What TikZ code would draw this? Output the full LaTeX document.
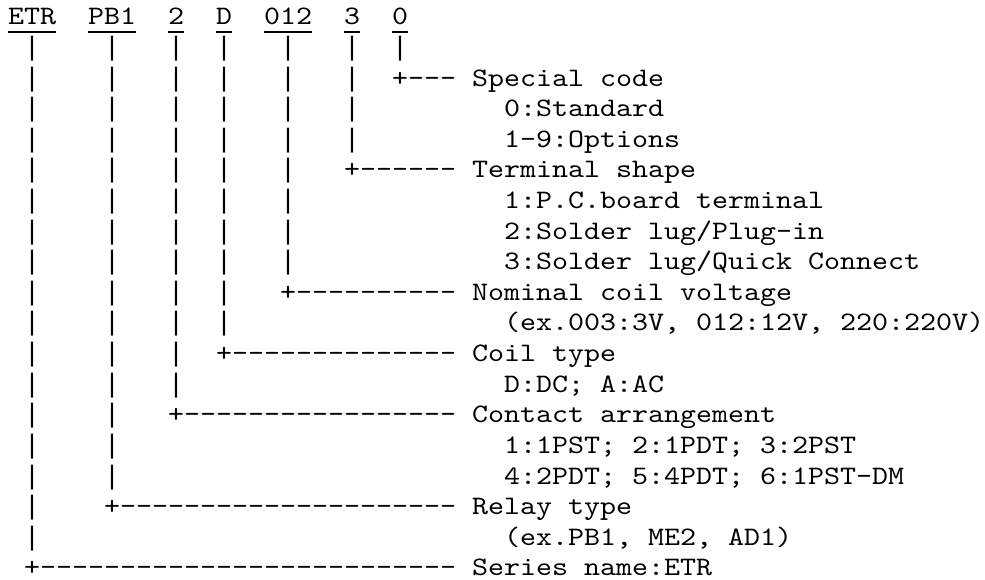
\documentclass[tikz,border=0pt]{standalone}
\usepackage{fontspec}
\newfontfamily\courlike{lmmono10-regular.otf}[FakeStretch=1.1429]
\newfontfamily\barfont{Liberation Mono}
\begin{document}
\begin{tikzpicture}[x=0.75pt,y=-0.75pt,
  txt/.style={anchor=base west,inner sep=0pt,outer sep=0pt,font=\courlike\fontsize{20pt}{23pt}\selectfont\frenchspacing,text=black},
  bartxt/.style={txt,font=\barfont\fontsize{20pt}{23pt}\selectfont},
  uline/.style={line width=1.5pt,black}]
\useasboundingbox (0,0) rectangle (985,580);
% row 1 : the code
\foreach \n/\c/\t in {etr/0/ETR,pb/5/PB1,ca/10/2,cd/13/D,cv/16/012,ct/21/3,cs/24/0}{
  \node[txt] (\n) at ({8+16*\c},25) {\t};
  \draw[uline] ([yshift=-4.9pt]\n.base west) -- ([yshift=-4.9pt]\n.base east);
}
% vertical bars and branch lines
\foreach \c/\e/\d/\lab in {
  1/19/--------------------------/Series name:ETR,
  6/17/---------------------/Relay type,
  10/14/-----------------/Contact arrangement,
  13/12/--------------/Coil type,
  17/10/----------/Nominal coil voltage,
  21/6/------/Terminal shape,
  24/3/---/Special code}{
  \pgfmathtruncatemacro{\last}{\e-1}
  \foreach \r in {2,...,\last}{
    \node[bartxt] (bar-\c-\r) at ({8+16*\c},{25+30.6*(\r-1)}) {|};
  }
  \node[txt] (br-\c) at ({8+16*\c},{25+30.6*(\e-1)}) {+\d};
  \node[txt] (lab-\c) at ({8+16*29},{25+30.6*(\e-1)}) {\lab};
}
% detail lines
\foreach \r/\t in {
  4/{0:Standard},
  5/{1-9:Options},
  7/{1:P.C.board terminal},
  8/{2:Solder lug/Plug-in},
  9/{3:Solder lug/Quick Connect},
  11/{(ex.003:3V, 012:12V, 220:220V)},
  13/{D:DC; A:AC},
  15/{1:1PST; 2:1PDT; 3:2PST},
  16/{4:2PDT; 5:4PDT; 6:1PST-DM},
  18/{(ex.PB1, ME2, AD1)}}{
  \node[txt] (det-\r) at ({8+16*31},{25+30.6*(\r-1)}) {\t};
}
\end{tikzpicture}
\end{document}
